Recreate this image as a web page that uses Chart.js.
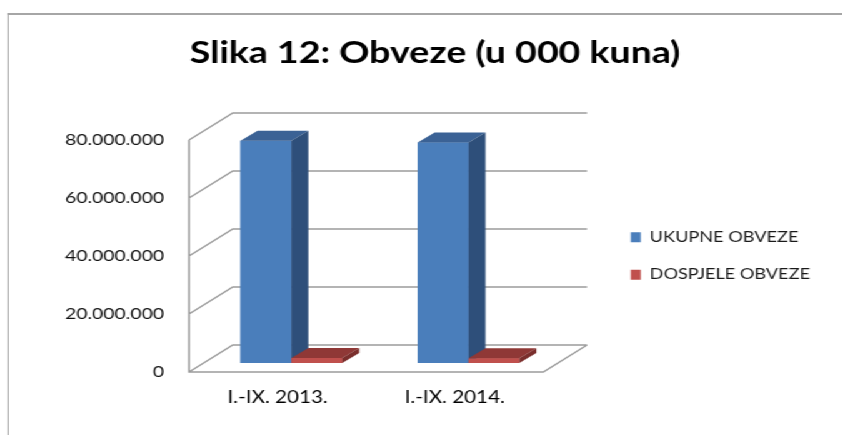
<!DOCTYPE html>
<html lang="hr">
<head>
<meta charset="UTF-8">
<title>Slika 12: Obveze (u 000 kuna)</title>
<script src="https://cdn.jsdelivr.net/npm/chart.js@4.4.1/dist/chart.umd.min.js"></script>
<style>
    html, body { margin: 0; padding: 0; background: #fff; overflow: hidden; }
    /* the source picture is stretched sideways, so the whole chart is drawn narrow and scaled */
    #wrap { position: absolute; left: 0; top: 0; width: 674px; height: 435px; transform: scaleX(1.25); transform-origin: 0 0; }
    #frame { position: absolute; left: 5.6px; top: 13px; width: 720px; height: 500px; border-left: 1.6px solid #a6a6a6; border-top: 2px solid #a6a6a6; }
    #myChart { position: absolute; left: 0; top: 0; }
</style>
</head>
<body>
<div id="wrap">
    <div id="frame"></div>
    <canvas id="myChart" width="674" height="435"></canvas>
</div>
<script>
    // values (thousands of kuna)
    const categories = ['I.-IX. 2013.', 'I.-IX. 2014.'];
    const ukupneObveze = [76600000, 76000000];
    const dospjeleObveze = [1700000, 1600000];
    const yTicks = [0, 20000000, 40000000, 60000000, 80000000];

    const font = 'Lato';
    const gridColor = '#9c9c9c';
    const wallDepth = { x: 35, y: 27 };   // back wall offset
    const barShift = { x: 11, y: 9 };     // bars stand a bit behind the front edge
    const barDepth = { x: 13.6, y: 10 };
    // front, top, side
    const faceColors = [
        ['#4a7ebb', '#3b6295', '#2e4f7a'],
        ['#c0504d', '#8f3836', '#7a2e2c']
    ];

    function fmt(v) {
        return String(v).replace(/\B(?=(\d{3})+(?!\d))/g, '.');
    }

    function drawFaces(ctx, bar, colors) {
        const p = bar.getProps(['x', 'y', 'base', 'width'], true);
        const l = p.x - p.width / 2, r = p.x + p.width / 2;
        const dx = barDepth.x, dy = barDepth.y;
        ctx.fillStyle = colors[1];
        ctx.beginPath();
        ctx.moveTo(l, p.y); ctx.lineTo(r, p.y); ctx.lineTo(r + dx, p.y - dy); ctx.lineTo(l + dx, p.y - dy);
        ctx.closePath(); ctx.fill();
        ctx.fillStyle = colors[2];
        ctx.beginPath();
        ctx.moveTo(r, p.y); ctx.lineTo(r + dx, p.y - dy); ctx.lineTo(r + dx, p.base - dy); ctx.lineTo(r, p.base);
        ctx.closePath(); ctx.fill();
    }

    const walls3d = {
        id: 'walls3d',
        beforeDatasetsDraw(chart) {
            const ctx = chart.ctx;
            const { left, right, bottom } = chart.chartArea;
            const ys = chart.scales.y;
            ctx.save();
            ctx.strokeStyle = gridColor;
            ctx.lineWidth = 1.5;
            ctx.beginPath();
            yTicks.forEach(v => {
                const y = ys.getPixelForValue(v);
                ctx.moveTo(left, y);
                ctx.lineTo(left + wallDepth.x, y - wallDepth.y);
                ctx.lineTo(right + wallDepth.x, y - wallDepth.y);
            });
            ctx.moveTo(left, ys.getPixelForValue(yTicks[yTicks.length - 1]));
            ctx.lineTo(left, bottom);
            ctx.lineTo(right, bottom);
            ctx.lineTo(right + wallDepth.x, bottom - wallDepth.y);
            ctx.stroke();
            ctx.restore();
            ctx.save();
            ctx.translate(barShift.x, -barShift.y);
        },
        afterDatasetsDraw(chart) {
            const ctx = chart.ctx;
            // redraw each category blue then red so the red block sits in front of the blue side
            categories.forEach((c, j) => {
                chart.data.datasets.forEach((ds, i) => {
                    const bar = chart.getDatasetMeta(i).data[j];
                    bar.draw(ctx);
                    drawFaces(ctx, bar, faceColors[i]);
                });
            });
            ctx.restore();
        }
    };

    Chart.defaults.color = '#000';
    Chart.defaults.font.family = font;

    new Chart(document.getElementById('myChart'), {
        type: 'bar',
        data: {
            labels: categories,
            datasets: [{
                label: 'UKUPNE OBVEZE',
                data: ukupneObveze,
                backgroundColor: faceColors[0][0],
                borderWidth: 0,
                clip: false
            }, {
                label: 'DOSPJELE OBVEZE',
                data: dospjeleObveze,
                backgroundColor: faceColors[1][0],
                borderWidth: 0,
                clip: false
            }]
        },
        options: {
            responsive: false,
            animation: false,
            layout: { padding: { left: 38, right: 16, top: 0, bottom: 0 } },
            categoryPercentage: 0.574,
            barPercentage: 1.0,
            plugins: {
                title: {
                    display: true,
                    text: 'Slika 12: Obveze (u 000 kuna)',
                    font: { family: font, size: 30, weight: 'bold' },
                    color: '#000',
                    padding: { top: 35, bottom: 69 }
                },
                legend: {
                    position: 'right',
                    fullSize: false,
                    maxWidth: 300,
                    labels: {
                        boxWidth: 8,
                        boxHeight: 10,
                        padding: 23,
                        color: '#1a1a1a',
                        font: { family: font, size: 14.5 }
                    }
                },
                tooltip: { enabled: false }
            },
            scales: {
                x: {
                    grid: { display: false },
                    border: { display: false },
                    ticks: { padding: 8, font: { size: 16.5 } },
                    afterFit: s => { s.height = 63; }
                },
                y: {
                    min: 0,
                    max: 80000000,
                    grid: { display: false },
                    border: { display: false },
                    afterBuildTicks: s => { s.ticks = yTicks.map(v => ({ value: v })); },
                    ticks: { padding: 12, font: { size: 15.5 }, color: '#111', callback: v => fmt(v) },
                    afterFit: s => { s.width = 113.2; }
                },
                y2: {
                    position: 'right',
                    display: true,
                    grid: { display: false },
                    border: { display: false },
                    ticks: { display: false },
                    afterFit: s => { s.width = 47; }
                }
            }
        },
        plugins: [walls3d]
    });
</script>
</body>
</html>
